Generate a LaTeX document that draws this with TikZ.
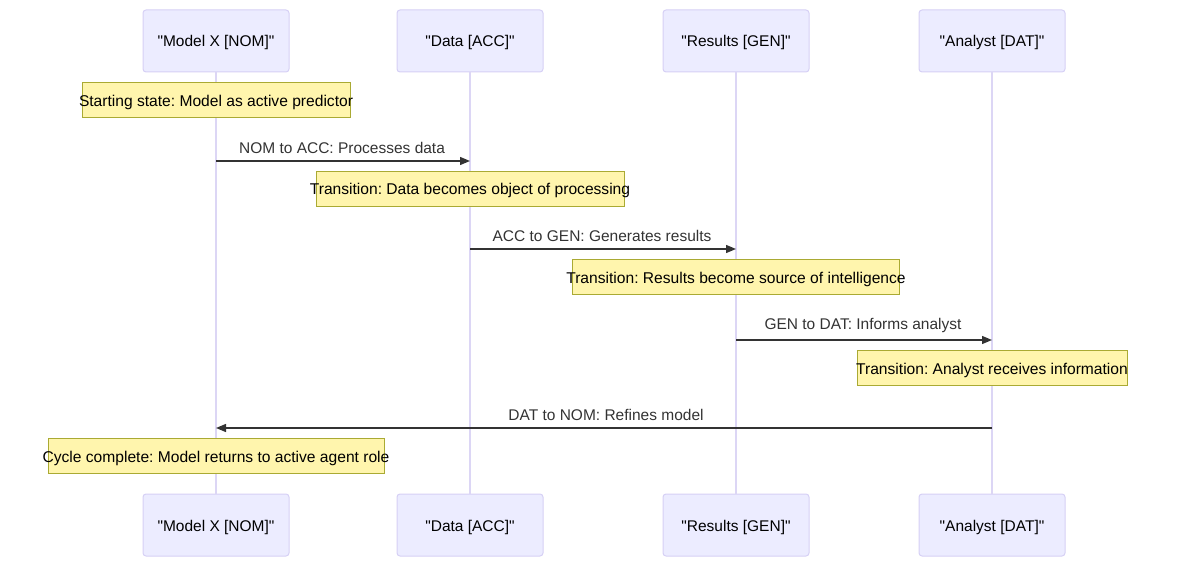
\documentclass[tikz,border=0pt]{standalone}
\usepackage{fontspec}
\setmainfont{Liberation Sans}[Ligatures=TeXOff]
\usetikzlibrary{arrows.meta}
\frenchspacing
\newcommand{\nt}[1]{\makebox[0pt]{#1}}
\definecolor{actfill}{HTML}{ECECFF}
\definecolor{actdraw}{HTML}{D6D0F5}
\definecolor{lifeln}{HTML}{DCD6F5}
\definecolor{notefill}{HTML}{FFF5AD}
\definecolor{notedraw}{HTML}{AAAA33}
\definecolor{msgcol}{HTML}{333333}
\tikzset{
  actor/.style={draw=actdraw, fill=actfill, rounded corners=3pt, line width=1pt,
    minimum width=146pt, minimum height=62pt, inner sep=0pt,
    text height=12pt, text depth=0pt,
    font=\fontsize{15.5}{18}\selectfont, text=black},
  note/.style={draw=notedraw, fill=notefill, line width=1pt,
    minimum height=35pt, inner sep=0pt, text height=12pt, text depth=0pt,
    font=\fontsize{15.6}{18}\selectfont, text=black},
  lifeline/.style={draw=lifeln, line width=2pt},
  msg/.style={draw=msgcol, line width=1.3pt, -{Triangle[length=10pt,width=8pt]}},
  msglabel/.style={font=\fontsize{15.5}{18}\selectfont, text=msgcol, inner sep=0pt}
}
\begin{document}
\begin{tikzpicture}[x=1pt,y=-1pt]
\useasboundingbox (0,0) rectangle (1184,572);
% actors
\node[actor] (a1) at (216,41) {"Model X [NOM]"};
\node[actor] (a2) at (470,41) {"Data [ACC]"};
\node[actor] (a3) at (736,41) {"Results [GEN]"};
\node[actor] (a4) at (992,41) {"Analyst [DAT]"};
\node[actor] (b1) at (216,525) {"Model X [NOM]"};
\node[actor] (b2) at (470,525) {"Data [ACC]"};
\node[actor] (b3) at (736,525) {"Results [GEN]"};
\node[actor] (b4) at (992,525) {"Analyst [DAT]"};
% lifelines
\draw[lifeline] (a1.south) -- (b1.north);
\draw[lifeline] (a2.south) -- (b2.north);
\draw[lifeline] (a3.south) -- (b3.north);
\draw[lifeline] (a4.south) -- (b4.north);
% coordinates on lifelines
\coordinate (m1s) at (216,161); \coordinate (m1e) at (470,161);
\coordinate (m2s) at (470,249); \coordinate (m2e) at (736,249);
\coordinate (m3s) at (736,340); \coordinate (m3e) at (992,340);
\coordinate (m4s) at (992,428); \coordinate (m4e) at (216,428);
% notes
\node[note, minimum width=268pt] (n1) at (216,100.5) {\nt{Starting state: Model as active predictor}};
\draw[msg] (m1s) -- (m1e);
\node[msglabel] (l1) at (342,148) {NOM to ACC: Processes data};
\node[note, minimum width=308pt] (n2) at (470,189) {\nt{Transition: Data becomes object of processing}};
\draw[msg] (m2s) -- (m2e);
\node[msglabel] (l2) at (602,236) {ACC to GEN: Generates results};
\node[note, minimum width=327pt] (n3) at (736,277.5) {\nt{Transition: Results become source of intelligence}};
\draw[msg] (m3s) -- (m3e);
\node[msglabel] (l3) at (863,325) {GEN to DAT: Informs analyst};
\node[note, minimum width=270pt] (n4) at (992,368) {\nt{Transition: Analyst receives information}};
\draw[msg] (m4s) -- (m4e);
\node[msglabel] (l4) at (606,415) {DAT to NOM: Refines model};
\node[note, minimum width=336pt] (n5) at (216,456) {\nt{Cycle complete: Model returns to active agent role}};
\end{tikzpicture}
\end{document}
